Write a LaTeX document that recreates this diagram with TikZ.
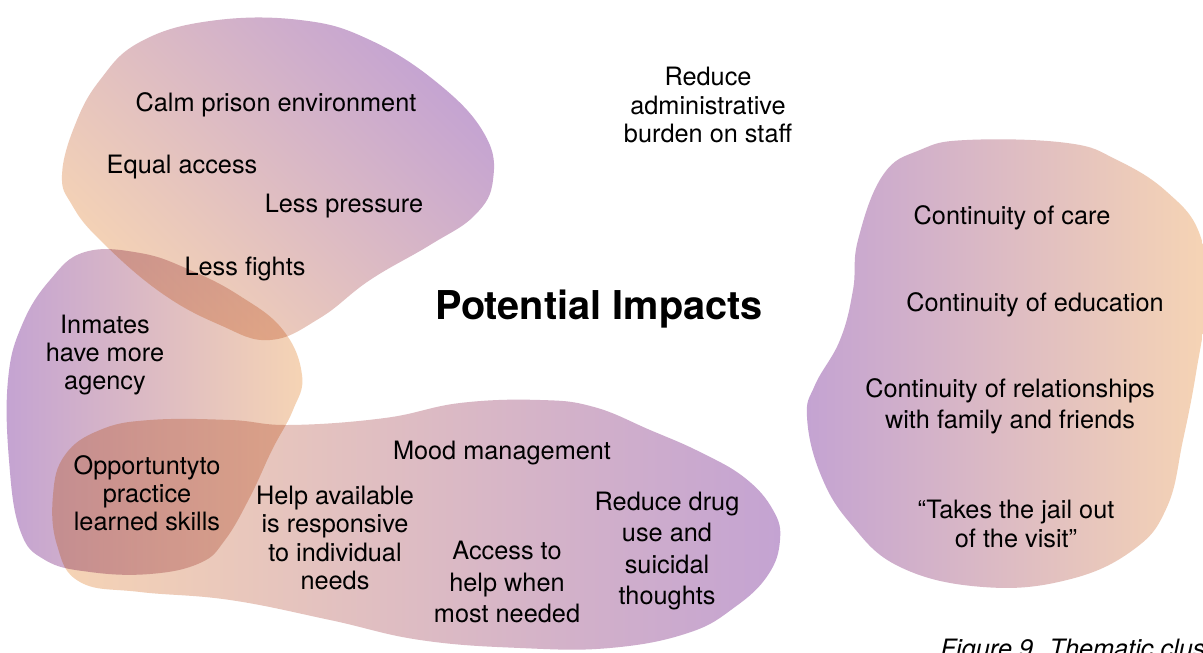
\documentclass[tikz,border=0pt]{standalone}
\usepackage{fontspec}
\setmainfont{TeX Gyre Heros}
\usetikzlibrary{positioning}

\definecolor{peach}{RGB}{246,212,180}
\definecolor{lilac}{RGB}{196,163,210}

\begin{document}
\begin{tikzpicture}[x=0.1mm, y=-0.1mm,
    blob/.style={blend mode=multiply},
    txt/.style={align=center, inner sep=0pt, font=\fontsize{7.2}{8}\selectfont},
    loose/.style={txt, font=\fontsize{7.2}{8.9}\selectfont}]

    % Frame
    \useasboundingbox (0,0) rectangle (1203,653);
    \fill[white] (0,0) rectangle (1203,653);
    \clip (0,0) rectangle (1203,653);

    % Blobs
    \shade[blob, left color=peach, right color=lilac, shading angle=135]  % Prison climate
        plot[smooth cycle, tension=0.7] coordinates {(62,175) (75,125) (100,80) (140,42) (210,21) (300,20) (370,40) (440,85) (485,135) (493,180) (475,215) (430,245) (370,280) (320,318) (270,340) (220,325) (160,292) (100,240) (72,205)};
    \shade[blob, left color=lilac, right color=peach]  % Agency
        plot[smooth cycle, tension=0.7] coordinates {(85,252) (140,253) (190,270) (240,296) (283,330) (302,375) (293,410) (272,450) (250,497) (225,540) (200,563) (150,574) (90,572) (45,560) (20,530) (9,460) (8,380) (22,325) (50,280)};
    \shade[blob, left color=peach, right color=lilac]  % Wellbeing
        plot[smooth cycle, tension=0.7] coordinates {(53,495) (65,455) (100,430) (150,420) (230,420) (290,425) (385,418) (460,403) (540,400) (594,407) (650,430) (700,452) (745,478) (773,510) (780,540) (768,575) (735,607) (688,633) (610,648) (520,648) (420,640) (330,620) (230,600) (140,592) (80,582) (57,545)};
    \shade[blob, left color=lilac, right color=peach]  % Continuity
        plot[smooth cycle, tension=0.7] coordinates {(967,140) (1067,143) (1117,160) (1167,192) (1200,235) (1206,300) (1196,373) (1183,440) (1167,507) (1133,550) (1067,580) (983,587) (900,567) (850,523) (820,473) (807,417) (815,385) (840,340) (853,290) (858,240) (883,175) (920,150)};

    % Title
    \node[txt, font=\fontsize{11.3}{13}\bfseries\selectfont] (title) at (599,309) {Potential Impacts};

    % Prison climate
    \node[txt] (calm) at (276,105) {Calm prison environment};
    \node[txt] (equal) at (182,167) {Equal access};
    \node[txt] (pressure) at (344,206) {Less pressure};
    \node[txt] (fights) at (245,269) {Less fights};

    % Agency
    \node[txt] (agency) at (105,355) {Inmates\\have more\\agency};
    \node[txt] (skills) at (147,493) {Opportuntyto\\practice\\learned skills};

    % Wellbeing
    \node[txt] (mood) at (502,453) {Mood management};
    \node[txt] (responsive) at (335,538) {Help available\\is responsive\\to individual\\needs};
    \node[loose] (access) at (507,582) {Access to\\help when\\most needed};
    \node[loose] (drugs) at (667,551) {Reduce drug\\use and\\suicidal\\thoughts};

    % Staff
    \node[txt] (admin) at (708,105) {Reduce\\administrative\\burden on staff};

    % Continuity
    \node[txt] (care) at (1012,218) {Continuity of care};
    \node[txt] (education) at (1035,305) {Continuity of education};
    \node[loose] (relations) at (1010,406) {Continuity of relationships\\with family and friends};
    \node[txt] (visit) at (1016,524) {``Takes the jail out\\of the visit''};

    % Caption
    \node[txt, font=\fontsize{7.2}{8}\itshape, anchor=base west] (caption) at (940,658) {Figure 9. Thematic clusters};
\end{tikzpicture}
\end{document}
